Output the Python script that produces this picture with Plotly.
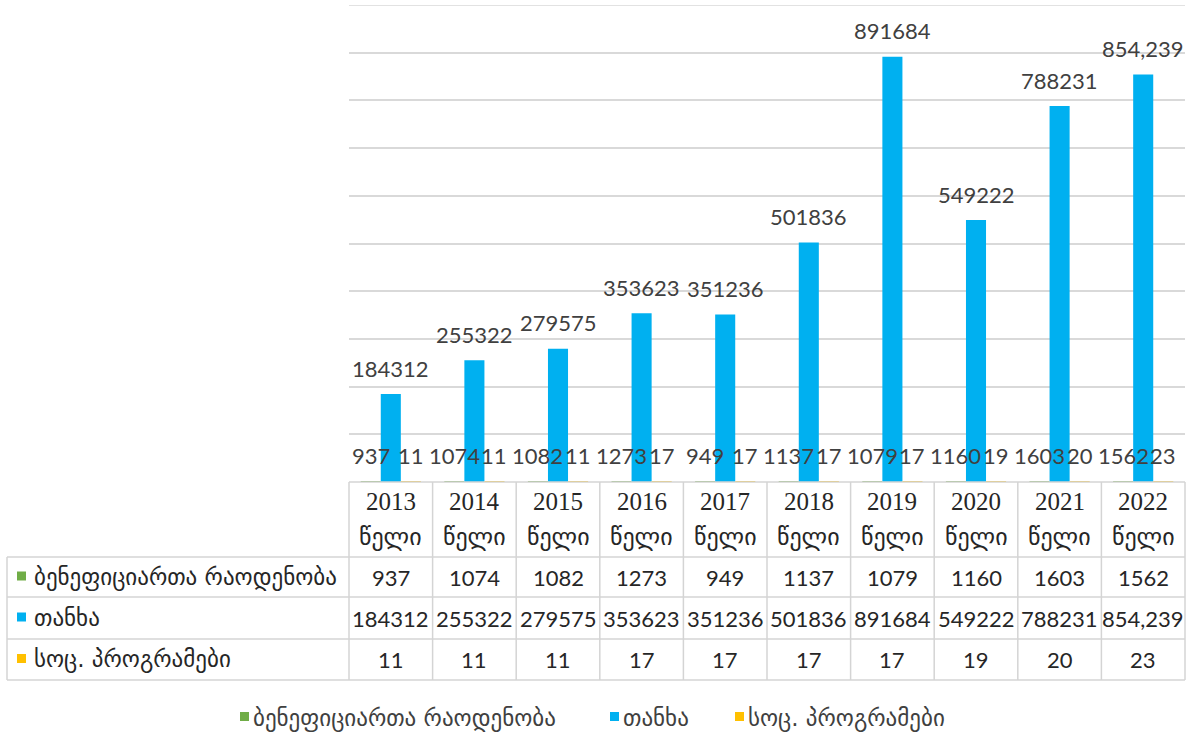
import plotly.graph_objects as go

# ---------------- data ----------------
years = ["2013", "2014", "2015", "2016", "2017", "2018", "2019", "2020", "2021", "2022"]
year_suffix = "წელი"
beneficiaries = [937, 1074, 1082, 1273, 949, 1137, 1079, 1160, 1603, 1562]
amount = [184312, 255322, 279575, 353623, 351236, 501836, 891684, 549222, 788231, 854239]
programs = [11, 11, 11, 17, 17, 17, 17, 19, 20, 23]
amount_labels = ["184312", "255322", "279575", "353623", "351236", "501836",
                 "891684", "549222", "788231", "854,239"]

series_names = ["ბენეფიციართა რაოდენობა", "თანხა", "სოც. პროგრამები"]
series_colors = ["#70AD47", "#00B0F0", "#FFC000"]

# ---------------- geometry ----------------
W, H = 1198, 734
px_left, px_right = 349, 1185
px_top, px_base = 5, 482
row_edges_px = [482, 557, 597, 639, 680]
label_left_px = 7
bargap = 0.28
legend_y_px = 718
legend_marker_px = [240, 610, 735]

def xp(px):
    return px / W

def yp(py):
    return 1 - py / H

n = len(years)
idx = list(range(n))

fig = go.Figure()
series_values = [beneficiaries, amount, programs]
for name, vals, col in zip(series_names, series_values, series_colors):
    fig.add_trace(go.Bar(x=idx, y=vals, name=name, marker=dict(color=col, line=dict(width=0)),
                         hoverinfo="y+name"))

col_w = (px_right - px_left) / n
bar_w = col_w * (1 - bargap) / 3

label_font = dict(family="Lato, Open Sans, sans-serif", size=22, color="#404040")
ann = []
label_sets = [[str(v) for v in beneficiaries], amount_labels, [str(v) for v in programs]]
for si, (vals, labs) in enumerate(zip(series_values, label_sets)):
    for i, v, lab in zip(idx, vals, labs):
        ann.append(dict(x=i, y=v, xref="x", yref="y", text=lab, showarrow=False,
                        xanchor="center", yanchor="middle", yshift=26,
                        xshift=(si - 1) * bar_w, font=label_font))

shapes = []
border = dict(color="#D4D4D4", width=1.5)
x_edges = [px_left + i * col_w for i in range(n + 1)]
shapes.append(dict(type="line", xref="paper", yref="paper", x0=xp(px_left), x1=xp(px_right),
                   y0=yp(row_edges_px[0]), y1=yp(row_edges_px[0]), line=border))
for r in row_edges_px[1:]:
    shapes.append(dict(type="line", xref="paper", yref="paper", x0=xp(label_left_px), x1=xp(px_right),
                       y0=yp(r), y1=yp(r), line=border))
for i, xe in enumerate(x_edges):
    shapes.append(dict(type="line", xref="paper", yref="paper", x0=xp(xe), x1=xp(xe),
                       y0=yp(row_edges_px[0]), y1=yp(row_edges_px[-1]), line=border))
shapes.append(dict(type="line", xref="paper", yref="paper", x0=xp(label_left_px), x1=xp(label_left_px),
                   y0=yp(row_edges_px[1]), y1=yp(row_edges_px[-1]), line=border))
# top gridline at the maximum of the value axis
shapes.append(dict(type="line", xref="x", yref="y", x0=-0.5, x1=n - 0.5, y0=1000000, y1=1000000,
                   line=dict(color="#D9D9D9", width=1.5), layer="below"))

table_font = dict(family="Lato, Open Sans, sans-serif", size=22, color="#262626")
year_font = dict(family="Liberation Serif, DejaVu Serif, serif", size=25, color="#262626")
geo_font = dict(family="DejaVu Sans, sans-serif", size=23, color="#262626")
geo_font_hdr = dict(family="DejaVu Sans, sans-serif", size=24, color="#262626")
legend_font = dict(family="DejaVu Sans, sans-serif", size=23, color="#404040")

for i, yr in enumerate(years):
    cx = (x_edges[i] + x_edges[i + 1]) / 2
    ann.append(dict(x=xp(cx), y=yp(501), xref="paper", yref="paper", text=yr, showarrow=False,
                    xanchor="center", yanchor="middle", font=year_font))
    ann.append(dict(x=xp(cx), y=yp(537), xref="paper", yref="paper", text=year_suffix, showarrow=False,
                    xanchor="center", yanchor="middle", font=geo_font_hdr))

table_rows = [[str(v) for v in beneficiaries], amount_labels, [str(v) for v in programs]]
for ri, row in enumerate(table_rows):
    cy = (row_edges_px[ri + 1] + row_edges_px[ri + 2]) / 2
    for i, lab in enumerate(row):
        cx = (x_edges[i] + x_edges[i + 1]) / 2
        ann.append(dict(x=xp(cx), y=yp(cy), xref="paper", yref="paper", text=lab, showarrow=False,
                        xanchor="center", yanchor="middle", font=table_font))
    shapes.append(dict(type="rect", xref="paper", yref="paper", x0=xp(17), x1=xp(26),
                       y0=yp(cy - 5.5), y1=yp(cy + 3.5), fillcolor=series_colors[ri], line=dict(width=0)))
    ann.append(dict(x=xp(32), y=yp(cy), xref="paper", yref="paper", text=series_names[ri], showarrow=False,
                    xanchor="left", yanchor="middle", font=geo_font))

# bottom legend
for name, col, mx in zip(series_names, series_colors, legend_marker_px):
    shapes.append(dict(type="rect", xref="paper", yref="paper", x0=xp(mx), x1=xp(mx + 9),
                       y0=yp(legend_y_px - 6), y1=yp(legend_y_px + 3), fillcolor=col, line=dict(width=0)))
    ann.append(dict(x=xp(mx + 11), y=yp(legend_y_px), xref="paper", yref="paper", text=name,
                    showarrow=False, xanchor="left", yanchor="middle", font=legend_font))

fig.update_layout(
    width=W, height=H,
    margin=dict(l=0, r=0, t=0, b=0),
    paper_bgcolor="white", plot_bgcolor="white",
    barmode="group", bargap=bargap, bargroupgap=0,
    xaxis=dict(type="linear", range=[-0.5, n - 0.5], domain=[xp(px_left), xp(px_right)],
               showticklabels=False, showgrid=False, zeroline=False, showline=False, ticks=""),
    yaxis=dict(domain=[yp(px_base), yp(px_top)], range=[0, 1000000], dtick=100000,
               showticklabels=False, showgrid=True, gridcolor="#D9D9D9", gridwidth=1.5,
               zeroline=False, showline=False, ticks=""),
    showlegend=False,
    annotations=ann,
    shapes=shapes,
)

fig.write_html("out.html", config={"displayModeBar": False},
               post_script="document.body.style.margin='0px';")
